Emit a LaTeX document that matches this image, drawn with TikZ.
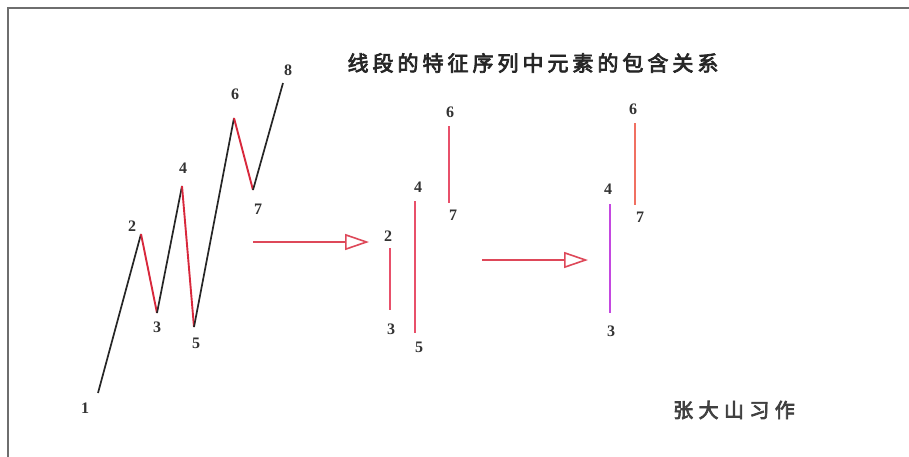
\documentclass[tikz,border=0pt]{standalone}
\usepackage{fontspec}
\setmainfont{Liberation Serif}
\newfontfamily\cjk{Noto Sans CJK SC}
\usetikzlibrary{arrows.meta}
\definecolor{segred}{HTML}{D8283C}
\definecolor{barred}{HTML}{E8506A}
\definecolor{barsalmon}{HTML}{F07062}
\definecolor{barpurple}{HTML}{C448E0}
\definecolor{framegray}{HTML}{6E6E6E}
\begin{document}
\begin{tikzpicture}[x=1pt,y=-1pt,
  blackseg/.style={draw=black!85,line width=1.7pt},
  redseg/.style={draw=segred,line width=1.9pt},
  bar/.style={line width=1.9pt},
  num/.style={font=\fontsize{16}{16}\selectfont\bfseries,text=black!80,inner sep=0pt},
  bigarrow/.style={draw=segred!85,line width=1.6pt,-{Triangle[open,length=24pt,width=16pt,line width=1.6pt]}}]
\useasboundingbox (0,0) rectangle (909,456);
\fill[white] (0,0) rectangle (909,456);
% frame
\draw[framegray,line width=2pt] (8,460) -- (8,8) -- (912,8);
% title
\node[inner sep=0pt,text=black!85] (title) at (533,63)
  {\cjk\fontsize{21}{21}\selectfont\addfontfeature{LetterSpace=19,FakeBold=3.5}线段的特征序列中元素的包含关系};
\node[inner sep=0pt,text=black!75] (author) at (734,410)
  {\cjk\fontsize{20}{20}\selectfont\addfontfeature{LetterSpace=27,FakeBold=3.5}张大山习作};
% zigzag points
\coordinate (p1) at (98,393);
\coordinate (p2) at (141,234);
\coordinate (p3) at (157,313);
\coordinate (p4) at (182,186);
\coordinate (p5) at (194,327);
\coordinate (p6) at (234,118);
\coordinate (p7) at (253,190);
\coordinate (p8) at (283,83);
\draw[blackseg] (p1) -- (p2);
\draw[redseg] (p2) -- (p3);
\draw[blackseg] (p3) -- (p4);
\draw[redseg] (p4) -- (p5);
\draw[blackseg] (p5) -- (p6);
\draw[redseg] (p6) -- (p7);
\draw[blackseg] (p7) -- (p8);
\node[num] (l1) at (85,408) {1};
\node[num] (l2) at (132,226) {2};
\node[num] (l3) at (157,327) {3};
\node[num] (l4) at (183,168) {4};
\node[num] (l5) at (196,343) {5};
\node[num] (l6) at (235,94) {6};
\node[num] (l7) at (258,209) {7};
\node[num] (l8) at (288,70) {8};
% arrow 1
\coordinate (a1s) at (253,242);
\coordinate (a1e) at (369,242);
\draw[bigarrow] (a1s) -- (a1e);
% middle group
\coordinate (m2) at (390,248);
\coordinate (m3) at (390,310);
\coordinate (m4) at (415,201);
\coordinate (m5) at (415,333);
\coordinate (m6) at (449,126);
\coordinate (m7) at (449,203);
\draw[bar,barred] (m2) -- (m3);
\draw[bar,barred] (m4) -- (m5);
\draw[bar,barred] (m6) -- (m7);
\node[num] (ml2) at (388,236) {2};
\node[num] (ml3) at (391,329) {3};
\node[num] (ml4) at (418,187) {4};
\node[num] (ml5) at (419,347) {5};
\node[num] (ml6) at (450,112) {6};
\node[num] (ml7) at (453,215) {7};
% arrow 2
\coordinate (a2s) at (482,260);
\coordinate (a2e) at (588,260);
\draw[bigarrow] (a2s) -- (a2e);
% right group
\coordinate (r4) at (610,204);
\coordinate (r3) at (610,313);
\coordinate (r6) at (635,123);
\coordinate (r7) at (635,205);
\draw[bar,barpurple] (r4) -- (r3);
\draw[bar,barsalmon] (r6) -- (r7);
\node[num] (rl4) at (608,189) {4};
\node[num] (rl3) at (611,331) {3};
\node[num] (rl6) at (633,109) {6};
\node[num] (rl7) at (640,217) {7};
\end{tikzpicture}
\end{document}
